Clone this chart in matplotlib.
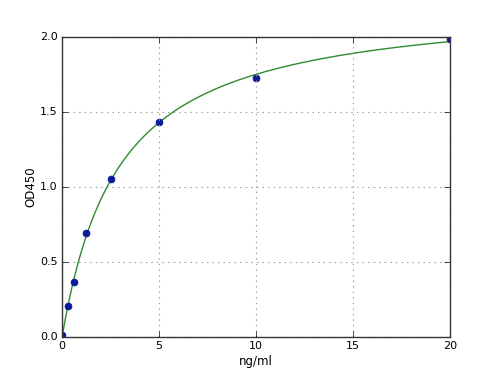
import numpy as np
import matplotlib
matplotlib.use("Agg")
import matplotlib.pyplot as plt

# standard curve points
conc = [0, 0.3125, 0.625, 1.25, 2.5, 5, 10, 20]
od450 = [0.011, 0.209, 0.367, 0.695, 1.053, 1.433, 1.725, 1.985]

x_ticks = [0, 5, 10, 15, 20]
y_ticks = [0.0, 0.5, 1.0, 1.5, 2.0]


def fit_4pl(x, y):
    """Crude 4PL fit: grid over slope/midpoint, linear lstsq for asymptotes."""
    x = np.asarray(x, float)
    y = np.asarray(y, float)
    best = None
    for b in np.linspace(0.5, 2.0, 151):
        for c in np.linspace(0.5, 40, 400):
            f = 1.0 / (1.0 + (x / c) ** b)
            A = np.column_stack([f, 1 - f])
            coef, *_ = np.linalg.lstsq(A, y, rcond=None)
            err = np.sum((A @ coef - y) ** 2)
            if best is None or err < best[0]:
                best = (err, coef[0], b, c, coef[1])
    _, a, b, c, d = best
    return lambda t: d + (a - d) / (1.0 + (t / c) ** b)


curve = fit_4pl(conc, od450)
xs = np.linspace(0, max(conc), 400)

plt.style.use("classic")
fig = plt.figure(figsize=(5, 3.75), dpi=100, facecolor="white")
ax = fig.add_axes([0.124, 0.101, 0.776, 0.8])

ax.plot(xs, curve(xs), color="#2e8b2e", lw=1.0)
ax.plot(conc, od450, "o", color="#0a1a9a", mec="#0a1a9a", ms=5)

ax.set_xlim(0, 20)
ax.set_ylim(0, 2.0)
ax.set_xticks(x_ticks)
ax.set_yticks(y_ticks)
ax.set_yticklabels([f"{v:.1f}" for v in y_ticks])
ax.tick_params(labelsize=8, pad=3)
ax.grid(True, color="#999999", linestyle=":", linewidth=0.8)
for sp in ax.spines.values():
    sp.set_zorder(5)
    sp.set_color("#333333")
ax.set_xlabel("ng/ml", fontsize=8.5, labelpad=3)
ax.set_ylabel("OD450", fontsize=8.5, labelpad=2)

fig.savefig("out.png", dpi=100, facecolor="white")
